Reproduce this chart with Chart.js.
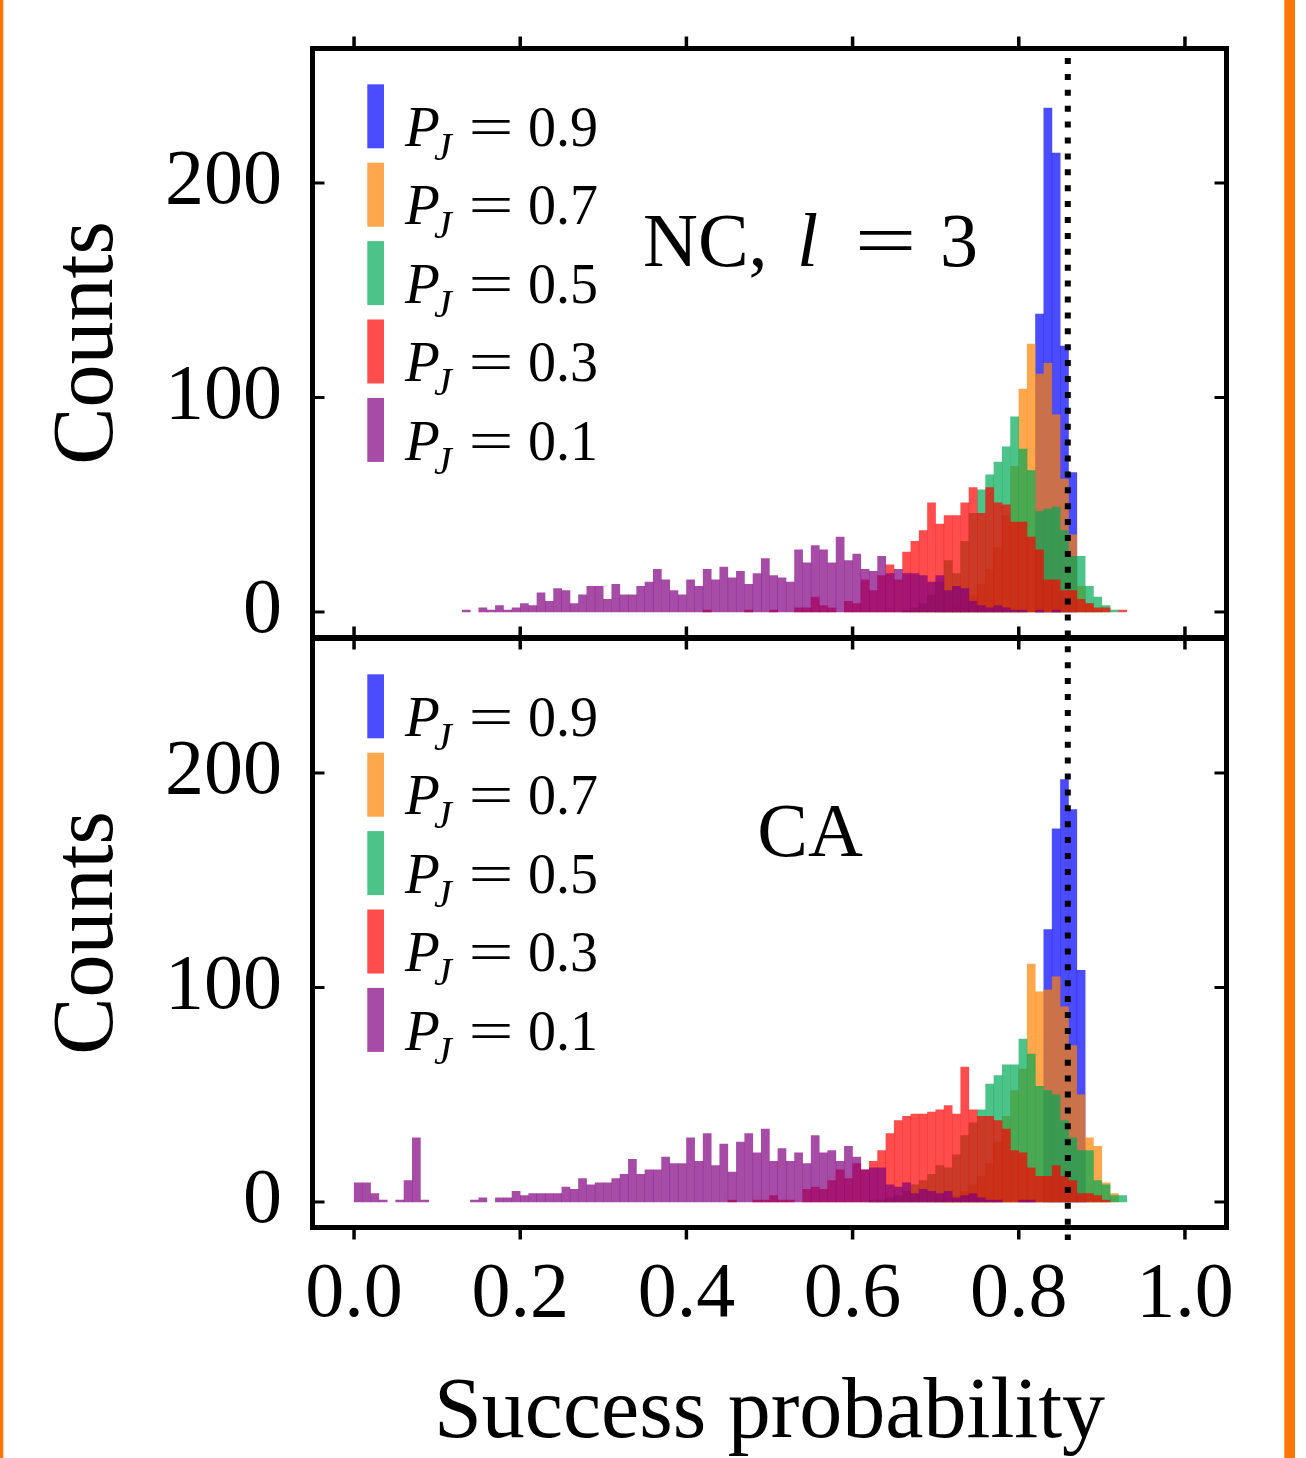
<!DOCTYPE html>
<html>
<head>
<meta charset="utf-8">
<title>Success probability histograms</title>
<script src="https://cdn.jsdelivr.net/npm/chart.js@4.4.1/dist/chart.umd.min.js"></script>
<style>
  html, body { margin: 0; padding: 0; background: #fff; }
  #wrap { position: relative; width: 1306px; height: 1458px; }
  #wrap canvas { position: absolute; left: 0; top: 0; }
</style>
</head>
<body>
<div id="wrap">
  <canvas id="ncChart" width="1306" height="1458"></canvas>
  <canvas id="caChart" width="1306" height="1458"></canvas>
</div>
<script>
// histogram bins: 0.00 .. 0.92, width 0.01
const binWidth = 0.01;
const binLeft = Array.from({length: 93}, (_, i) => +(i * binWidth).toFixed(2));

const xTicks = [0, 0.2, 0.4, 0.6, 0.8, 1.0];
const yTicks = [0, 100, 200];
const pjLabels = ['0.9', '0.7', '0.5', '0.3', '0.1'];
const idealP = 0.859;

// NC, l = 3 counts per bin (index i -> bin starting at i/100)
const ncP09 = [
  0,0,0,0,0,0,0,0,0,0,  0,0,0,0,0,0,0,0,0,0,  0,0,0,0,0,0,0,0,0,0,
  0,0,0,0,0,0,0,0,0,0,  0,0,0,0,0,0,0,0,0,0,  0,0,0,0,0,0,0,0,0,0,
  0,0,0,0,0,0,0,0,0,0,  0,0,0,0,0,0,0,0,0,0,
  0,0,139,235,214,124,65,0,0,0,  0,0,0];
const ncP07 = [
  0,0,0,0,0,0,0,0,0,0,  0,0,0,0,0,0,0,0,0,0,  0,0,0,0,0,0,0,0,0,0,
  0,0,0,0,0,0,0,0,0,0,  0,0,0,0,0,0,0,0,0,0,  0,0,0,0,0,0,0,0,0,0,
  0,0,0,0,0,0,0,0,0,0,  1,2,3,5,8,13,20,30,45,68,
  104,125,111,116,92,62,36,12,4,1,  0,0,0];
const ncP05 = [
  0,0,0,0,0,0,0,0,0,0,  0,0,0,0,0,0,0,0,0,0,  0,0,0,0,0,0,0,0,0,0,
  0,0,0,0,0,0,0,0,0,0,  0,0,0,0,0,0,0,0,0,0,  0,0,0,0,0,0,0,0,0,0,
  0,0,0,0,0,0,1,2,4,8,  14,24,18,33,46,57,64,70,77,91,
  76,66,47,48,49,38,26,26,12,7,  3,1,0];
const ncP03 = [
  0,0,0,0,0,0,0,0,0,0,  0,0,0,0,0,0,0,0,0,0,  0,0,0,0,0,0,0,0,0,0,
  0,0,0,0,0,0,0,0,0,0,  0,0,1,0,0,0,0,1,0,0,  1,0,0,2,2,7,3,2,0,5,
  4,15,10,17,22,15,28,33,38,51,  41,45,45,51,58,46,58,51,50,42,
  42,35,29,15,15,10,10,6,4,2,  2,0,1];
const ncP01 = [
  0,0,0,0,0,0,0,0,0,0,  0,0,0,1,0,2,1,3,1,2,  4,3,9,5,11,10,4,8,12,12,
  6,13,8,8,12,14,20,15,10,8,  15,12,20,15,21,16,19,13,18,25,
  17,16,14,29,23,31,29,23,35,24,  27,20,19,26,18,20,18,18,17,14,
  17,10,12,11,5,3,2,3,2,1,  1,0,1,0,1,0,0,0,0,0,  0,0,0];

// CA counts per bin
const caP09 = [
  0,0,0,0,0,0,0,0,0,0,  0,0,0,0,0,0,0,0,0,0,  0,0,0,0,0,0,0,0,0,0,
  0,0,0,0,0,0,0,0,0,0,  0,0,0,0,0,0,0,0,0,0,  0,0,0,0,0,0,0,0,0,0,
  0,0,0,0,0,0,0,0,0,0,  0,0,0,0,0,0,0,0,0,0,
  0,0,0,127,174,197,183,108,0,0,  0,0,0];
const caP07 = [
  0,0,0,0,0,0,0,0,0,0,  0,0,0,0,0,0,0,0,0,0,  0,0,0,0,0,0,0,0,0,0,
  0,0,0,0,0,0,0,0,0,0,  0,0,0,0,0,0,0,0,0,0,  0,0,0,0,0,0,0,0,0,0,
  0,0,0,0,0,0,0,0,0,0,  1,2,3,5,8,12,18,28,40,52,
  62,111,98,99,105,91,73,50,30,26,  9,4,0];
const caP05 = [
  0,0,0,0,0,0,0,0,0,0,  0,0,0,0,0,0,0,0,0,0,  0,0,0,0,0,0,0,0,0,0,
  0,0,0,0,0,0,0,0,0,0,  0,0,0,0,0,0,0,0,0,0,  0,0,0,0,0,0,0,0,0,0,
  0,0,1,1,2,3,5,8,10,13,  17,16,22,31,37,43,55,59,64,64,
  76,69,54,52,50,38,30,24,24,10,  8,3,3];
const caP03 = [
  0,0,0,0,0,0,0,0,0,0,  0,0,0,0,0,0,0,0,0,0,  0,0,0,0,0,0,0,0,0,0,
  0,0,0,0,0,0,0,0,0,0,  0,0,0,0,0,1,0,0,1,1,  3,1,1,0,6,7,6,10,15,11,
  18,15,19,24,32,38,40,41,41,42,  43,45,41,63,43,40,40,38,34,24,
  23,16,12,12,17,12,10,4,4,3,  1,0,0];
const caP01 = [
  9,9,4,1,0,1,10,30,1,0,  0,0,0,0,1,2,0,2,2,5,  3,4,4,4,4,7,6,11,8,9,
  9,11,13,20,13,15,15,21,18,18,  30,19,32,17,27,14,28,32,23,34,
  19,25,19,23,18,31,23,24,19,26,  21,15,16,16,8,7,9,4,6,5,
  4,5,2,3,4,2,1,1,0,0,  1,1,0,0,0,0,0,0,0,0,  0,0,0];

const FONT = "'Liberation Serif', 'Times New Roman', serif";
const seriesColors = [
  'rgba(0, 0, 255, 0.7)',
  'rgba(255, 130, 0, 0.7)',
  'rgba(0, 170, 85, 0.7)',
  'rgba(255, 0, 0, 0.7)',
  'rgba(128, 0, 128, 0.7)'
];
const yMin = -11.9, yMax = 262.7;

function histDatasets(series) {
  return series.map((counts, k) => ({
    label: 'P_J = ' + pjLabels[k],
    // empty bins are left out so nothing is drawn there
    data: binLeft.map((b, i) => ({x: b + binWidth / 2, y: counts[i] > 0 ? counts[i] : null})),
    backgroundColor: seriesColors[k],
    borderWidth: 0,
    inflateAmount: 0.2,   // hides the light seams between neighbouring bins
    grouped: false,
    barPercentage: 1,
    categoryPercentage: 1,
    // P_J = 0.1 ends up on top, 0.9 at the bottom
    order: series.length - k
  }));
}

function strokeLine(ctx, x1, y1, x2, y2) {
  ctx.beginPath();
  ctx.moveTo(x1, y1);
  ctx.lineTo(x2, y2);
  ctx.stroke();
}

// wide math-style equals sign
function drawEquals(ctx, cx, base, size, stretch) {
  ctx.save();
  ctx.translate(cx, base);
  ctx.scale(stretch, 1);
  ctx.font = `${size}px ${FONT}`;
  ctx.textAlign = 'center';
  ctx.fillText('=', 0, 0);
  ctx.restore();
}

const panelDecor = {
  id: 'panelDecor',
  beforeDraw(chart, args, opts) {
    if (!opts.background) return;
    const ctx = chart.ctx;
    ctx.save();
    ctx.fillStyle = '#fff';
    ctx.fillRect(0, 0, chart.width, chart.height);
    ctx.fillStyle = '#ff7700';
    ctx.fillRect(0, 0, 3.3, chart.height);
    ctx.fillRect(1284.3, 0, 10.7, chart.height);
    ctx.restore();
  },
  afterDraw(chart, args, opts) {
    const {ctx, chartArea: a} = chart;
    const x = chart.scales.x, y = chart.scales.y;
    ctx.save();
    ctx.strokeStyle = '#000';
    ctx.lineCap = 'butt';

    // y ticks point inward on both sides
    ctx.lineWidth = 3;
    yTicks.forEach(v => {
      const py = y.getPixelForValue(v);
      strokeLine(ctx, a.left, py, a.left + 12, py);
      strokeLine(ctx, a.right, py, a.right - 12, py);
    });
    // x ticks point outward top and bottom
    ctx.lineWidth = 3.5;
    xTicks.forEach(v => {
      const px = x.getPixelForValue(v);
      strokeLine(ctx, px, a.top, px, a.top - 12);
      strokeLine(ctx, px, a.bottom, px, a.bottom + 12);
    });
    ctx.lineWidth = 5;
    ctx.strokeRect(a.left, a.top, a.right - a.left, a.bottom - a.top);

    // legend
    pjLabels.forEach((lab, k) => {
      const top = a.top + 35.8 + k * 78.4;
      const base = a.top + 97.5 + k * 78.4;
      ctx.fillStyle = seriesColors[k];
      ctx.fillRect(367.3, top, 16.7, 64);
      ctx.fillStyle = '#000';
      ctx.textBaseline = 'alphabetic';
      ctx.textAlign = 'left';
      ctx.font = `italic 57px ${FONT}`;
      ctx.fillText('P', 405, base);
      ctx.font = `italic 40px ${FONT}`;
      ctx.fillText('J', 434, base + 14);
      drawEquals(ctx, 491, base, 57, 1.4);
      ctx.textAlign = 'left';
      ctx.font = `56px ${FONT}`;
      ctx.fillText(lab, 528, base);
    });

    // panel label
    const tb = a.top + 217.2;
    ctx.fillStyle = '#000';
    ctx.textBaseline = 'alphabetic';
    if (opts.panel === 'nc') {
      ctx.textAlign = 'left';
      ctx.font = `76px ${FONT}`;
      ctx.fillText('NC,', 643, tb);
      ctx.font = `italic 76px ${FONT}`;
      ctx.fillText('l', 797, tb);
      drawEquals(ctx, 885.5, tb, 76, 1.45);
      ctx.textAlign = 'left';
      ctx.font = `76px ${FONT}`;
      ctx.fillText('3', 940, tb);
    } else {
      ctx.textAlign = 'center';
      ctx.font = `76px ${FONT}`;
      ctx.fillText('CA', 810, tb);
    }

    // dotted reference line through both panels
    if (opts.refLine) {
      const px = x.getPixelForValue(idealP);
      ctx.setLineDash([6, 9.9]);
      ctx.lineWidth = 6;
      strokeLine(ctx, px, 58, px, 1240);
      ctx.setLineDash([]);
    }
    ctx.restore();
  }
};

function makeChart(id, series, panel, pad, showX) {
  const xScale = {
    type: 'linear',
    min: -0.05,
    max: 1.05,
    offset: false,
    display: showX,
    grid: {display: false, drawTicks: false},
    border: {display: false},
    afterBuildTicks: s => { s.ticks = xTicks.map(v => ({value: v})); },
    ticks: {
      color: '#000',
      font: {family: FONT, size: 78, lineHeight: 1},
      padding: 29,
      maxRotation: 0,
      autoSkip: false,
      callback: v => Number(v).toFixed(1)
    },
    title: {
      display: showX,
      text: 'Success probability',
      color: '#000',
      font: {family: FONT, size: 86, lineHeight: 1},
      padding: {top: 0, bottom: 1}
    }
  };
  if (showX) {
    xScale.afterFit = s => {
      s.height = 230.5;
      s.paddingLeft = 0;
      s.paddingRight = 0;
    };
  }

  return new Chart(document.getElementById(id), {
    type: 'bar',
    data: {datasets: histDatasets(series)},
    options: {
      responsive: false,
      maintainAspectRatio: false,
      devicePixelRatio: 1,
      animation: false,
      layout: {padding: pad},
      plugins: {
        legend: {display: false},
        tooltip: {enabled: false},
        panelDecor: {panel: panel, background: panel === 'nc', refLine: panel === 'ca'}
      },
      scales: {
        x: xScale,
        y: {
          min: yMin,
          max: yMax,
          grid: {display: false, drawTicks: false},
          border: {display: false},
          afterBuildTicks: s => { s.ticks = yTicks.map(v => ({value: v})); },
          afterFit: s => {
            s.width = 312.5;
            s.paddingTop = 0;
            s.paddingBottom = 0;
          },
          ticks: {color: '#000', font: {family: FONT, size: 78}, padding: 30.5},
          title: {
            display: true,
            text: 'Counts',
            color: '#000',
            font: {family: FONT, size: 86, lineHeight: 1},
            padding: {top: 46, bottom: 0}
          }
        }
      }
    },
    plugins: [panelDecor]
  });
}

makeChart('ncChart', [ncP09, ncP07, ncP05, ncP03, ncP01], 'nc',
  {top: 48.5, bottom: 820.5, left: 0, right: 79.5}, false);
makeChart('caChart', [caP09, caP07, caP05, caP03, caP01], 'ca',
  {top: 638.5, bottom: 0, left: 0, right: 79.5}, true);
</script>
</body>
</html>
